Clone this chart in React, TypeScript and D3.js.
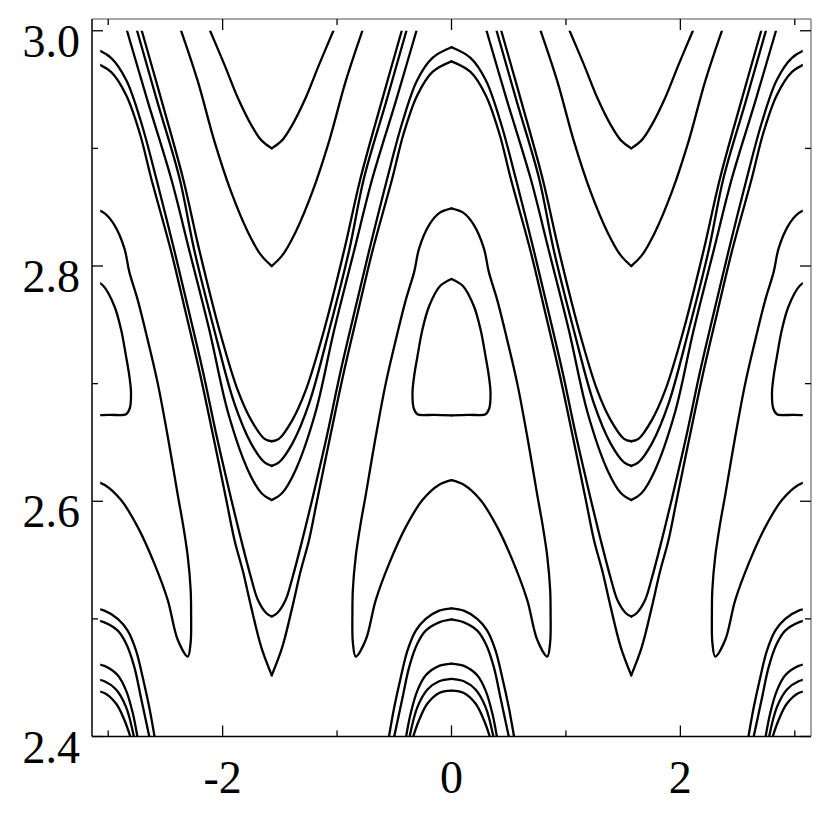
import React from "react";
import * as d3 from "d3";

type Pt = [number, number];

// Contour lines. Each array is the right half of one
// period (0 <= x <= pi/2); the figure repeats with period pi and is mirror
// symmetric, so every line is drawn again at -x, pi - x and x - pi.
const waveOuter: Pt[] = [
  [0, 2.986], [0.166, 2.977], [0.3, 2.958], [0.43, 2.922], [0.56, 2.875],
  [0.72, 2.813], [0.85, 2.76], [0.97, 2.71], [1.09, 2.655], [1.216, 2.602],
  [1.304, 2.567], [1.39, 2.535], [1.45, 2.516], [1.522, 2.505], [1.571, 2.502],
];
const waveInner: Pt[] = [
  [0, 2.974], [0.166, 2.965], [0.3, 2.945], [0.42, 2.912], [0.516, 2.875],
  [0.69, 2.813], [0.82, 2.76], [0.94, 2.71], [1.06, 2.655], [1.172, 2.602],
  [1.245, 2.567], [1.32, 2.54], [1.391, 2.51], [1.479, 2.476], [1.571, 2.452],
];
const topLine1: Pt[] = [
  [0.306, 3.0], [0.487, 2.94], [0.69, 2.875], [0.851, 2.813], [1.027, 2.745],
  [1.19, 2.675], [1.365, 2.626], [1.48, 2.607], [1.571, 2.601],
];
const topLine2: Pt[] = [
  [0.394, 3.0], [0.57, 2.94], [0.764, 2.875], [0.895, 2.813], [1.07, 2.745],
  [1.245, 2.683], [1.391, 2.649], [1.508, 2.633], [1.571, 2.63],
];
const topLine3: Pt[] = [
  [0.435, 3.0], [0.61, 2.94], [0.794, 2.875], [0.939, 2.813], [1.115, 2.745],
  [1.275, 2.694], [1.391, 2.669], [1.508, 2.653], [1.571, 2.651],
];
const cup29: Pt[] = [
  [1.032, 3.0], [1.158, 2.971], [1.274, 2.943], [1.391, 2.92], [1.479, 2.907],
  [1.571, 2.9],
];
const cup28: Pt[] = [
  [0.779, 3.0], [0.925, 2.957], [1.07, 2.906], [1.216, 2.863], [1.362, 2.829],
  [1.479, 2.809], [1.571, 2.8],
];
const separatrix: Pt[] = [
  [0, 2.849], [0.108, 2.845], [0.195, 2.835], [0.283, 2.815], [0.326, 2.795],
  [0.4, 2.771], [0.487, 2.737], [0.575, 2.7], [0.662, 2.655], [0.75, 2.605],
  [0.794, 2.581], [0.837, 2.553], [0.862, 2.525], [0.866, 2.505], [0.862, 2.48],
  [0.837, 2.468], [0.75, 2.482], [0.662, 2.516], [0.545, 2.547], [0.4, 2.578],
  [0.254, 2.601], [0.108, 2.614], [0, 2.618],
];
const island: Pt[] = [
  [0, 2.789], [0.1, 2.783], [0.195, 2.766], [0.254, 2.746], [0.298, 2.723],
  [0.327, 2.706], [0.341, 2.692], [0.33, 2.679], [0.298, 2.674], [0.15, 2.6735],
  [0, 2.673],
];
const dome509: Pt[] = [
  [0, 2.509], [0.108, 2.507], [0.225, 2.5], [0.312, 2.49], [0.385, 2.473],
  [0.444, 2.45], [0.5, 2.425], [0.55, 2.398],
];
const dome500: Pt[] = [
  [0, 2.4995], [0.108, 2.497], [0.225, 2.49], [0.298, 2.479], [0.37, 2.459],
  [0.43, 2.432], [0.505, 2.398],
];
const dome462: Pt[] = [
  [0, 2.462], [0.108, 2.46], [0.225, 2.452], [0.298, 2.439], [0.356, 2.42],
  [0.4, 2.398],
];
const dome449: Pt[] = [
  [0, 2.449], [0.108, 2.447], [0.21, 2.44], [0.298, 2.425], [0.37, 2.398],
];
const dome439: Pt[] = [
  [0, 2.439], [0.108, 2.437], [0.21, 2.428], [0.283, 2.414], [0.341, 2.398],
];

const halfCurves = [
  waveOuter, waveInner, topLine1, topLine2, topLine3, cup29, cup28,
  separatrix, island, dome509, dome500, dome462, dome449, dome439,
];

const xTicks = [-3, -2, -1, 0, 1, 2, 3];
const xLabels = [-2, 0, 2];
const yTicks = [2.4, 2.5, 2.6, 2.7, 2.8, 2.9, 3.0];
const yLabels = [2.4, 2.6, 2.8, 3.0];

const xDataMax = 3.07; // the contour grid stops a little short of +-pi
const yDataMax = 3.0;

const x = d3.scaleLinear().domain([-Math.PI, Math.PI]).range([92, 811]);
const y = d3.scaleLinear().domain([2.4, 3.01]).range([736.5, 19]);

const line = d3
  .line<Pt>()
  .x((d) => x(d[0]))
  .y((d) => y(d[1]))
  .curve(d3.curveCatmullRom.alpha(0.5));

const images = (p: Pt[]): Pt[][] => [
  p,
  p.map(([a, b]) => [-a, b] as Pt),
  p.map(([a, b]) => [Math.PI - a, b] as Pt),
  p.map(([a, b]) => [a - Math.PI, b] as Pt),
];

export default function App() {
  const [x0, x1] = x.range();
  const [yb, yt] = y.range();
  const font = "'Liberation Serif', 'Times New Roman', serif";
  const major = 11;
  const minor = 6;
  return (
    <svg
      width={830}
      height={830}
      style={{ position: "absolute", left: 0, top: 0, background: "#fff" }}
    >
      <defs>
        <clipPath id="plot">
          <rect
            x={x(-xDataMax)}
            y={y(yDataMax)}
            width={x(xDataMax) - x(-xDataMax)}
            height={y(2.4) - y(yDataMax)}
          />
        </clipPath>
      </defs>
      <rect width={830} height={830} fill="#fff" />
      <g clipPath="url(#plot)" fill="none" stroke="#000" strokeWidth={2.3} strokeLinecap="round" strokeLinejoin="round">
        {halfCurves.flatMap((c, i) =>
          images(c).map((p, j) => <path key={i + "-" + j} d={line(p) ?? ""} />)
        )}
      </g>

      {/* frame */}
      <line x1={x0} x2={x1} y1={yt} y2={yt} stroke="#888" strokeWidth={1.5} />
      <line x1={x1} x2={x1} y1={yt} y2={yb} stroke="#888" strokeWidth={1.5} />
      <line x1={x0} x2={x0} y1={yt} y2={yb} stroke="#000" strokeWidth={1.5} />
      <line x1={x0} x2={x1} y1={yb} y2={yb} stroke="#000" strokeWidth={1.5} />

      {/* ticks */}
      <g stroke="#000" strokeWidth={1.3}>
        {xTicks.map((t) => {
          const len = t % 2 === 0 ? major : minor;
          return (
            <g key={"xt" + t}>
              <line x1={x(t)} x2={x(t)} y1={yb} y2={yb - len} />
              <line x1={x(t)} x2={x(t)} y1={yt} y2={yt + len} />
            </g>
          );
        })}
        {yTicks.map((t, i) => {
          const len = i % 2 === 0 ? major : minor;
          return (
            <g key={"yt" + t}>
              <line x1={x0} x2={x0 + len} y1={y(t)} y2={y(t)} />
              <line x1={x1} x2={x1 - len} y1={y(t)} y2={y(t)} />
            </g>
          );
        })}
      </g>

      {/* labels */}
      <g fontFamily={font} fontSize={46} fill="#000">
        {xLabels.map((t) => (
          <text key={"xl" + t} x={x(t)} y={793} textAnchor="middle">
            {t < 0 ? "-" + Math.abs(t) : String(t)}
          </text>
        ))}
        {yLabels.map((t) => (
          <text key={"yl" + t} x={80} y={y(t) + 26} textAnchor="end">
            {d3.format(".1f")(t)}
          </text>
        ))}
      </g>
    </svg>
  );
}
